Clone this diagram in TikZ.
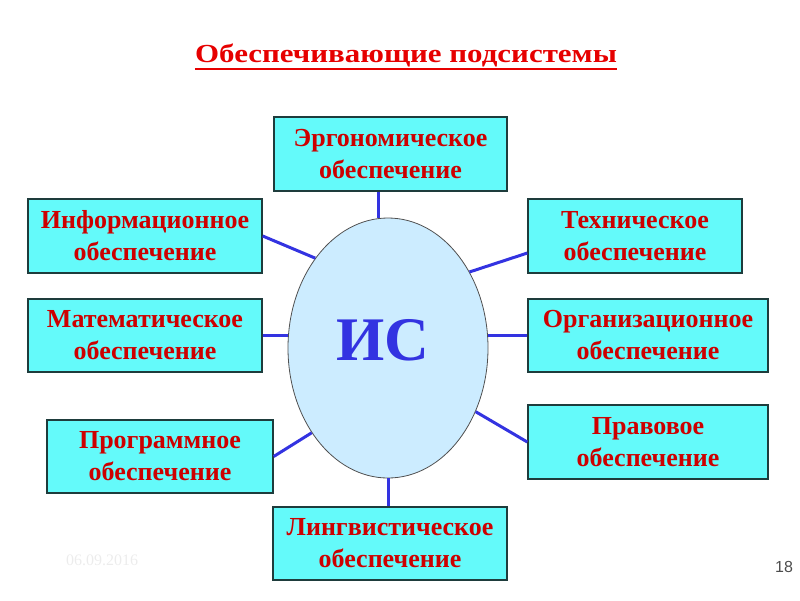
\documentclass[tikz,border=0pt]{standalone}
\usepackage{fontspec}
\setmainfont{Liberation Serif}
\newfontfamily\numfont{Liberation Sans}
\newfontfamily\headfont{Liberation Serif}[FakeStretch=1.19]
\usetikzlibrary{shapes.geometric}
\definecolor{boxcyan}{RGB}{100,250,250}
\definecolor{boxline}{RGB}{30,60,60}
\definecolor{textred}{RGB}{205,0,0}
\definecolor{titlered}{RGB}{230,0,0}
\definecolor{linkblue}{RGB}{51,51,225}
\definecolor{ovalfill}{RGB}{204,236,255}
\definecolor{ovalline}{RGB}{80,80,80}
\begin{document}
\begin{tikzpicture}[x=1pt,y=-1pt,
    podsys/.style={draw=boxline, line width=1.4pt, fill=boxcyan, align=center, inner sep=0pt, text=textred, font=\bfseries\fontsize{26}{32}\selectfont},
    link/.style={draw=linkblue, line width=3pt}]
        \useasboundingbox (0,0) rectangle (800,600);
        \node[text=titlered, inner sep=0pt, anchor=base, font=\headfont\bfseries\fontsize{26}{30}\selectfont] (title) at (406,62) {Обеспечивающие подсистемы};
            \draw[titlered, line width=2pt] ([yshift=-7pt]title.base west) -- ([yshift=-7pt]title.base east) ;
        \node[ellipse, draw=ovalline, fill=ovalfill, line width=0.8pt, minimum width=200pt, minimum height=260pt, inner sep=0pt] (is) at (388,348) {};
        \node[text=linkblue, font=\bfseries\fontsize{62}{70}\selectfont] (isname) at (383,340) {ИС};
            \node[podsys, minimum width=233pt, minimum height=74pt] (ergo) at (390.5,154) {Эргономическое\\обеспечение};
            \node[podsys, minimum width=234pt, minimum height=74pt] (info) at (145,236) {Информационное\\обеспечение};
            \node[podsys, minimum width=214pt, minimum height=74pt] (tech) at (635,236) {Техническое\\обеспечение};
            \node[podsys, minimum width=234pt, minimum height=73pt] (math) at (145,335.5) {Математическое\\обеспечение};
            \node[podsys, minimum width=240pt, minimum height=73pt] (org) at (648,335.5) {Организационное\\обеспечение};
            \node[podsys, minimum width=226pt, minimum height=73pt] (prog) at (160,456.5) {Программное\\обеспечение};
            \node[podsys, minimum width=240pt, minimum height=74pt] (prav) at (648,442) {Правовое\\обеспечение};
            \node[podsys, minimum width=234pt, minimum height=73pt] (ling) at (390,543.5) {Лингвистическое\\обеспечение};
            \draw[link] (is.94) -- (is.94 |- ergo.south) ;
            \draw[link] (is.129) -- (info.east) ;
            \draw[link] (is.43.5) -- (tech.189) ;
            \draw[link] (math.east) -- (math.east -| is.west) ;
            \draw[link] (org.west) -- (org.west -| is.east) ;
            \draw[link] (is.228.6) -- (prog.east) ;
            \draw[link] (is.324) -- (prav.west) ;
            \draw[link] (is.south) -- (is.south |- ling.north) ;
        \node[text=gray!15, font=\fontsize{16}{18}\selectfont] (date) at (102,560) {06.09.2016};
        \node[text=black!70, font=\numfont\fontsize{16}{18}\selectfont] (page) at (784,567) {18};
        \end{tikzpicture}
\end{document}
